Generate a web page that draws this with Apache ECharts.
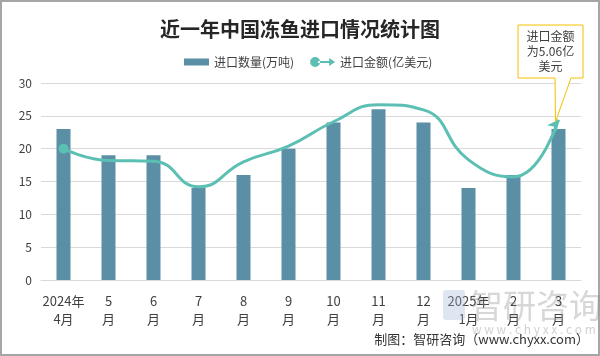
<!DOCTYPE html>
<html><head><meta charset="utf-8">
<script src="https://cdn.jsdelivr.net/npm/echarts@6/dist/echarts.min.js"></script>
<style>html,body{margin:0;padding:0;background:#fff}#c{width:600px;height:356px}</style>
</head><body><div id="c"></div>
<script>
const categories = ['2024年\n4月','5\n月','6\n月','7\n月','8\n月','9\n月','10\n月','11\n月','12\n月','2025年\n1月','2\n月','3\n月'];
const quantity = [23,19,19,14,16,20,24,26,24,14,16,23];
const amount = [20,18.2,18.1,14.2,18,20.4,24.1,26.7,25.9,18.3,15.7,24.4];
const yMin = 0, yMax = 30, yStep = 5;
const titleText = '近一年中国冻鱼进口情况统计图';
const seriesNames = ['进口数量(万吨)','进口金额(亿美元)'];
const noteText = '进口金额\n为5.06亿\n美元';
const sourceText = '制图：智研咨询（www.chyxx.com）';

const FONT = '"Noto Sans CJK SC", "Microsoft YaHei", sans-serif';
const BAR = '#5b8fa6', LINE = '#5bbfb4';
const chart = echarts.init(document.getElementById('c'), null, {renderer:'canvas'});
const last = amount.length - 1;
chart.setOption({
  animation:false,
  backgroundColor:'#fff',
  textStyle:{fontFamily:FONT},
  title:{text:titleText,left:'center',top:14,textStyle:{fontSize:20,fontWeight:'bold',color:'#262626',fontFamily:FONT}},
  legend:{left:179,top:51,itemWidth:25,itemHeight:10,itemGap:16,
    textStyle:{fontSize:12,color:'#404040',fontFamily:FONT},
    data:[
      {name:seriesNames[0],icon:'path://M0,0 L25,0 Z M0,1.5 L25,1.5 L25,8.5 L0,8.5 Z M0,10 L25,10 Z',itemStyle:{color:BAR}},
      {name:seriesNames[1],icon:'path://M0,5 A5,5 0 1,0 10,5 A5,5 0 1,0 0,5 Z M8,4 L19,4 L19,1 L25,5 L19,9 L19,6 L8,6 Z',itemStyle:{color:LINE}}
    ]},
  grid:{left:41,right:19,top:83,bottom:76,containLabel:false},
  xAxis:{type:'category',data:categories,
    axisLine:{lineStyle:{color:'#d9d9d9'}},axisTick:{show:false},
    axisLabel:{interval:0,margin:12,fontSize:13,lineHeight:18,color:'#404040',fontFamily:FONT}},
  yAxis:{type:'value',min:yMin,max:yMax,interval:yStep,
    axisLine:{show:false},axisTick:{show:false},
    splitLine:{lineStyle:{color:'#d9d9d9'}},
    axisLabel:{margin:9,fontSize:12,color:'#404040',fontFamily:FONT}},
  series:[
    {name:seriesNames[0],type:'bar',data:quantity,barWidth:14,itemStyle:{color:BAR},z:2},
    {name:seriesNames[1],type:'line',smooth:0.5,z:3,
      lineStyle:{color:LINE,width:3},itemStyle:{color:LINE},
      data:amount.map((v,i)=>({value:v,
        symbol: i===0?'circle':(i===last?'arrow':'none'),
        symbolSize: i===0?10:[9,11],
        symbolRotate: i===last?-36:0}))}
  ]
});

const tip = chart.convertToPixel({seriesIndex:1},[last, amount[last]]);
const bx0=518, bx1=583, by0=25, by1=78;
chart.setOption({graphic:[
  {type:'rect',shape:{x:1,y:1,width:598,height:354},style:{fill:'none',stroke:'#a6a6a6',lineWidth:2},silent:true,z:0},
  {type:'polygon',z:10,shape:{points:[[bx0,by0],[bx1,by0],[bx1,by1],[571,by1],[tip[0]-3,tip[1]+2],[555,by1],[bx0,by1]]},
    style:{fill:'#fff',stroke:'#f5c000',lineWidth:1}},
  {type:'text',z:11,x:(bx0+bx1)/2,y:(by0+by1)/2,style:{text:noteText,align:'center',verticalAlign:'middle',fontSize:12,lineHeight:15,fill:'#404040',fontFamily:FONT}},
  {type:'rect',z:1,shape:{x:443,y:290,width:22,height:30,r:3},style:{fill:'#9fb8d6',opacity:0.35},silent:true},
  {type:'text',z:1,x:470,y:305,style:{text:'智研咨询',fontSize:33,fill:'#8c8c8c',opacity:0.35,verticalAlign:'middle',fontFamily:FONT}},
  {type:'text',z:1,x:472,y:329,style:{text:'w w w . c h y x x . c o m',fontSize:12,fill:'#8c8c8c',opacity:0.4,verticalAlign:'middle',fontFamily:FONT}},
  {type:'text',z:12,right:11,top:333,style:{text:sourceText,fontSize:13,fill:'#333',fontFamily:FONT}}
]});
</script></body></html>
